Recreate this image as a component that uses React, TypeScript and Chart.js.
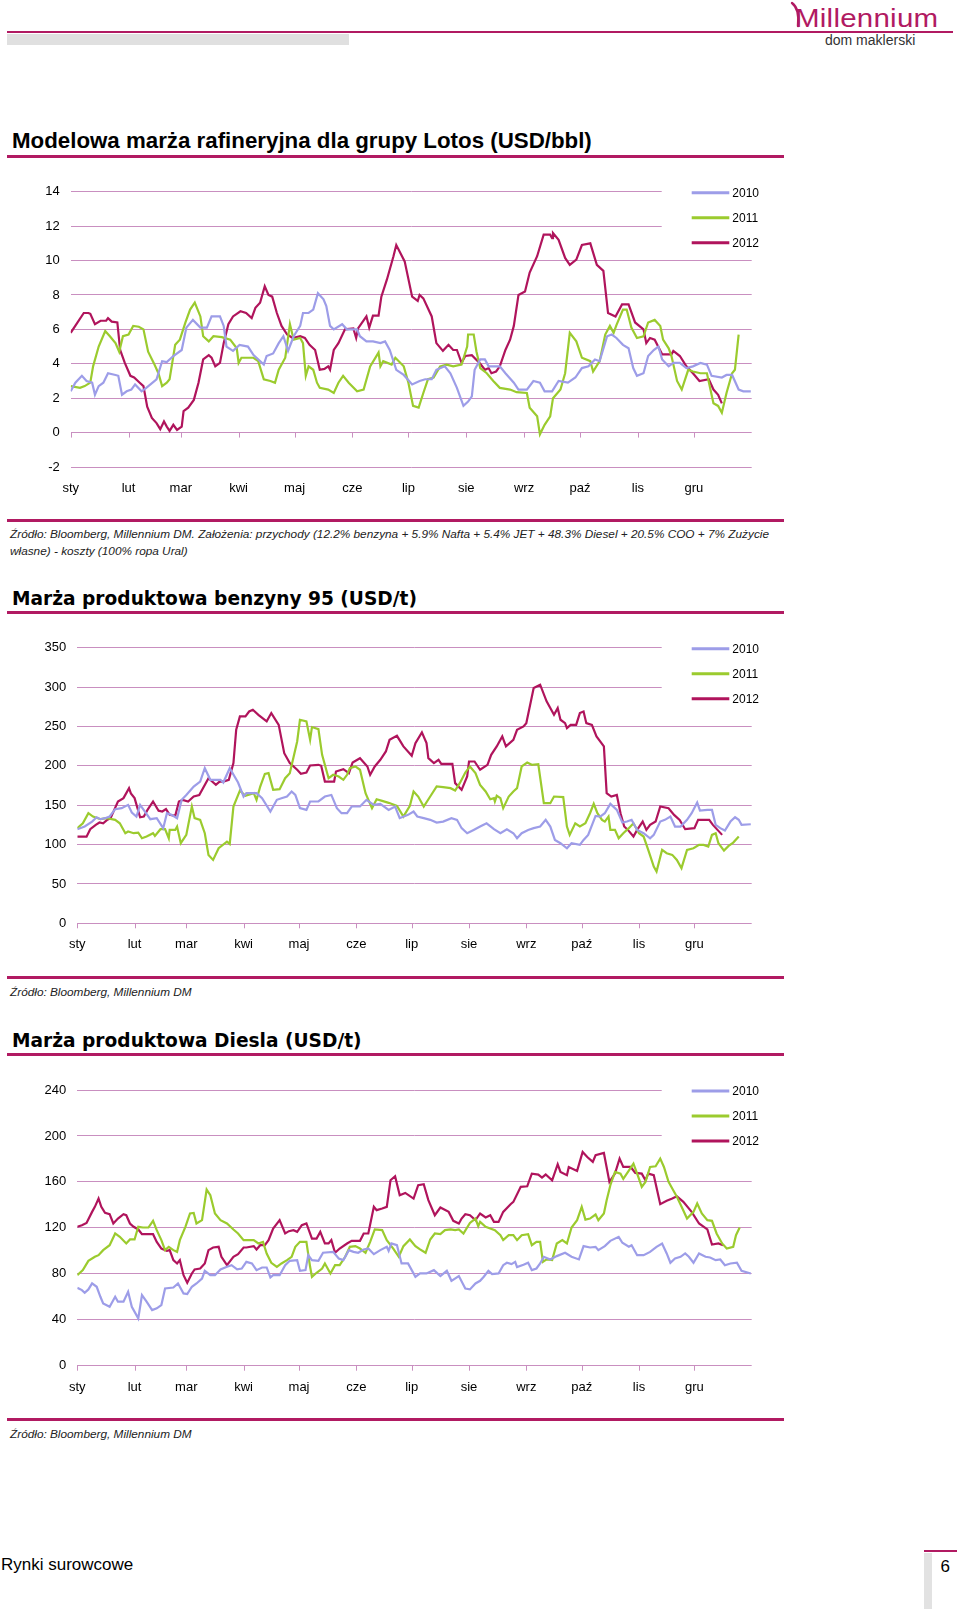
import React, { useEffect, useRef } from 'react';
import { Chart, registerables } from 'chart.js';

Chart.register(...registerables);

// ---------- shared axis data ----------
const MONTH_LABELS = ['sty', 'lut', 'mar', 'kwi', 'maj', 'cze', 'lip', 'sie', 'wrz', 'paź', 'lis', 'gru'];
const MONTH_START_DAYS = [0, 31, 59, 90, 120, 151, 181, 212, 243, 273, 304, 334];
const YEAR_LABELS = ['2010', '2011', '2012'];
const SERIES_COLORS = ['#9d9de8', '#9bcb2e', '#b0145c'];

const LOTOS_Y_TICKS = [-2, 0, 2, 4, 6, 8, 10, 12, 14];
const BENZ_Y_TICKS = [0, 50, 100, 150, 200, 250, 300, 350];
const DIESEL_Y_TICKS = [0, 40, 80, 120, 160, 200, 240];

// ---------- chart 1: Lotos model refining margin (USD/bbl), [dayOfYear, value] ----------
const LOTOS_2010 = [[0,2.4],[2.5,2.9],[6,3.3],[8.5,3.0],[11.5,2.9],[13,2.2],[15,2.7],[17.5,2.9],[20,3.45],[24,3.35],[25.5,3.3],[27.5,2.2],[30,2.4],[32.5,2.5],[34.5,2.8],[38,2.4],[40.5,2.6],[46,3.1],[49,4.15],[51.5,4.1],[55,4.45],[59.5,4.8],[62,6.1],[65.5,6.55],[69.5,6.1],[73,6.1],[75.5,6.75],[80,6.75],[82,6.2],[83.5,5.0],[87,4.75],[90.5,5.1],[95,5.0],[98,4.5],[103.5,3.95],[105,4.45],[108.5,4.6],[111.5,5.2],[114,5.6],[116.5,4.75],[119.5,5.6],[123,6.2],[124.5,6.95],[127.5,6.95],[130,7.15],[132.5,8.1],[135.5,7.75],[137,7.35],[139,6.2],[141,6.0],[145.5,6.3],[148,6.0],[153.5,6.0],[155,5.6],[158.5,5.3],[162,5.3],[166,5.2],[168.5,5.3],[171,4.8],[174.5,3.65],[178.5,3.35],[183,2.8],[187,3.0],[190,3.1],[193.5,3.1],[196,3.65],[200.5,3.85],[203.5,3.45],[207,2.6],[210.5,1.55],[213,1.8],[215,2.1],[216.5,3.65],[219.5,4.25],[222,4.25],[224,3.85],[230,3.85],[233,3.45],[237.5,2.9],[240,2.5],[244.5,2.5],[248,3.0],[251.5,2.9],[254,2.4],[258,2.4],[261.5,3.0],[266.5,2.9],[270.5,3.2],[274,3.75],[277.5,3.85],[281,4.25],[283.5,4.15],[287.5,5.6],[290,5.7],[292.5,5.5],[296,5.1],[299,4.9],[301.5,3.75],[303.5,3.3],[307,3.45],[309.5,4.45],[312.5,4.8],[315,5.0],[317,4.25],[320.5,3.85],[323,4.05],[326.5,4.05],[330,3.75],[333.5,3.85],[337.5,4.05],[341,3.95],[343.5,3.3],[349,3.2],[351.5,3.35],[354.5,3.35],[358,2.5],[360.5,2.4],[364.5,2.4]];
const LOTOS_2011 = [[0,2.7],[5,2.6],[7.5,2.7],[10.5,2.9],[12,3.85],[15,5.0],[18.5,5.9],[21,5.6],[24,5.2],[26,4.7],[28,5.6],[31,5.7],[33.5,6.2],[36.5,6.15],[39,6.0],[41.5,4.7],[44.5,4.05],[47,3.45],[49,2.7],[51.5,2.9],[53,3.1],[56,5.1],[58.5,5.4],[61.5,6.4],[64,7.15],[66.5,7.55],[69.5,6.75],[71,5.6],[74,5.3],[76.5,5.6],[81,5.55],[85.5,5.4],[89,4.9],[90,4.05],[91.5,4.35],[98,4.35],[100.5,4.15],[103.5,3.1],[107,3.0],[109.5,2.9],[111.5,3.65],[115,4.35],[117.5,6.3],[119.5,5.4],[123,5.5],[124.5,5.2],[126,3.3],[127.5,3.85],[130,3.65],[132,2.9],[133.5,2.6],[138,2.5],[141,2.3],[143.5,2.9],[146,3.3],[149,2.9],[153.5,2.4],[157,2.5],[160.5,3.85],[165,4.65],[166,3.85],[167.5,4.15],[172,3.95],[174,4.35],[178.5,3.85],[181,2.9],[183.5,1.55],[186.5,1.45],[189,2.3],[191.5,3.1],[194.5,3.2],[198,3.85],[201.5,3.95],[205,3.85],[209.5,3.95],[212.5,5.0],[213,5.7],[216,5.7],[217.5,4.7],[219.5,3.75],[223,3.45],[226.5,3.0],[230,2.6],[235.5,2.5],[239,2.35],[244.5,2.3],[246,1.45],[250,0.95],[251.5,-0.1],[254,0.45],[257,0.95],[258.5,2.0],[262.5,2.5],[265,3.45],[267.5,5.8],[271,5.3],[274,4.35],[278.5,4.15],[280,3.55],[283.5,4.15],[286.5,5.7],[289,6.2],[291,5.8],[292.5,6.25],[296,7.15],[298,7.15],[300.5,6.1],[303.5,5.5],[307,5.6],[309.5,6.4],[313,6.55],[316,6.2],[317.5,5.4],[320.5,4.9],[322,4.45],[325,3.0],[327.5,2.5],[331,3.65],[333.5,3.55],[337.5,3.45],[341,3.45],[344.5,1.7],[347,1.55],[349,1.15],[351.5,2.3],[354.5,3.45],[356,3.65],[358,5.7]];
const LOTOS_2012 = [[0,5.8],[7,6.95],[9.5,6.95],[10.5,6.9],[13,6.3],[16,6.5],[19,6.5],[20,6.65],[22,6.45],[25,6.4],[26.5,4.8],[29,4.05],[32,3.3],[34,3.2],[37,2.9],[39,2.7],[41,1.5],[43.5,0.85],[46,0.55],[48,0.2],[50,0.65],[51.5,0.35],[53,0.1],[55,0.45],[57,0.15],[59.5,0.35],[60.5,1.25],[63,1.45],[66,1.9],[68.5,2.9],[71,4.25],[74,4.5],[75.5,4.35],[77.5,3.85],[80,4.05],[82,5.2],[84.5,6.3],[87,6.75],[91,7.05],[94,6.95],[97,6.65],[99,7.25],[101.5,7.55],[104,8.5],[106,8.0],[108,7.9],[110.5,6.95],[113,6.2],[116,5.7],[119,5.5],[123,5.6],[125.5,5.5],[128,5.1],[131,4.8],[133.5,3.65],[136,3.7],[138,3.85],[139,3.65],[141,4.8],[143.5,5.2],[147,6.0],[151.5,6.05],[153,5.5],[154,6.05],[158.5,6.75],[160,6.1],[162,6.8],[165,6.8],[166.5,7.9],[169.5,8.9],[173,10.25],[174.5,10.9],[179,9.95],[183,7.9],[186,7.65],[187,8.0],[189,7.8],[193.5,6.75],[196,5.2],[199.5,4.75],[202.5,5.1],[205,4.8],[207,4.8],[209.5,4.05],[211.5,4.45],[215,4.5],[219.5,4.0],[222,3.65],[224,3.75],[225.5,3.45],[228,3.55],[230,3.85],[233,4.8],[235.5,5.4],[237.5,6.2],[240,8.0],[243.5,8.2],[246,9.3],[250,10.25],[253.5,11.5],[257,11.5],[258,11.3],[258.5,11.6],[261.5,11.2],[265,10.15],[267.5,9.75],[271,10.05],[274,10.9],[278.5,11.0],[282,9.75],[285.5,9.4],[288,6.95],[292,6.75],[295.5,7.45],[299,7.45],[302.5,6.4],[307,6.0],[308.5,5.2],[310.5,5.5],[313,5.4],[317,4.55],[322,4.55],[323,4.75],[326.5,4.45],[330,3.85],[333.5,3.45],[337,3.0],[342,3.1],[344.5,2.5],[347,2.2],[349,1.7]];

// ---------- chart 2: gasoline 95 crack (USD/t) ----------
const BENZ_2010 = [[0,119.5],[4,122.9],[8,129.2],[10.5,134.7],[12.5,132.2],[15,133.5],[17.5,135.6],[20.5,144.9],[24,146.2],[27.5,150.4],[29.5,140.7],[32,135.6],[34,150.4],[36.5,142],[39.5,132.2],[43,133.5],[46.5,120.8],[48.5,139.8],[51,137.7],[54,133.5],[56.5,156.8],[59,163],[63,173.7],[66.5,180],[69,197],[72,182.2],[77.5,182.2],[79,178.8],[82.5,197],[87,178.8],[90,161],[91.5,165.3],[97,165.3],[100,158.9],[104.5,142],[108,156.8],[110.5,158.9],[113.5,161],[116,167.4],[118,163],[120.5,146.2],[124,144],[126,154.7],[130.5,154.7],[134,161],[137.5,163],[140.5,146.2],[143,139.8],[146,139.8],[148.5,148.3],[153,148.3],[156.5,156.8],[160.5,150.4],[164,151.7],[168.5,144],[172,148.3],[174.5,133.5],[179,137.7],[182,142],[184,135.6],[187.5,133.5],[191,131.4],[194.5,128],[198,129.2],[202.5,133.5],[205.5,131.4],[208,120.8],[211,114.4],[214.5,118.6],[218,122.9],[221.5,127],[225.5,119.5],[229,114.4],[232.5,119.5],[236,114.4],[238,108],[240.5,114.4],[244,118.6],[247,120.8],[250.5,122.9],[253.5,131.4],[256,122.9],[258.5,105.9],[261.5,101.7],[265,95.3],[267.5,101.7],[272,99.6],[274,105.9],[276.5,112.3],[280.5,136.4],[283,135.6],[285.5,139.8],[288.5,151.7],[292,144],[295,128],[297.5,129.2],[300,131.4],[303,118.6],[306.5,114.4],[310,108],[312,112.3],[315.5,129.2],[318,131.4],[321,135.6],[323.5,122.9],[326.5,122.9],[330,131.4],[332.5,139.8],[335.5,153.4],[337,143.2],[341,144],[343.5,144],[345.5,125],[348,120.8],[350.5,117.8],[353.5,129.2],[356,134.7],[358,131.4],[359.5,125],[364.5,125.8]];
const BENZ_2011 = [[0,120.8],[3,127],[6,139.8],[8.5,135.6],[12.5,132.2],[16,133.5],[20.5,131.4],[23,127],[26,114.4],[27.5,116.5],[30.5,114.4],[33,115],[35,108],[37.5,110.2],[41,114.4],[42,111],[45,119.5],[47.5,119.5],[49.5,108],[50,118.6],[53,118.6],[54,122.9],[56,101.7],[59,112.3],[62,148.3],[63.5,133.5],[66.5,131.4],[69,114.4],[71,86.9],[73.5,80.5],[76.5,95.3],[81,103.8],[82.5,100.8],[84.5,148.3],[88,168.6],[91,161.9],[95.5,165.3],[97,156.8],[99,173.7],[101.5,189.8],[103.5,190.7],[106,169.5],[109.5,170.3],[112.5,184.3],[115,190.7],[119,230.9],[120.5,258.5],[124,256.4],[126,233],[127,249.2],[130.5,246.6],[132.5,214],[136,184.3],[138.5,188.6],[141.5,186.4],[144,182.2],[146,188.6],[147.5,197],[150.5,199.2],[153,195],[156,165.3],[159.5,146.2],[162,157.6],[165,155.5],[168.5,153],[173,149.2],[176.5,135.6],[180,149.2],[182,167.4],[184.5,161],[187.5,148.3],[191,161],[194.5,173.7],[198,172.9],[202,171.6],[204.5,168.6],[207,178],[210,191.5],[212.5,199.2],[215.5,190.7],[218,175.8],[221,167.4],[223.5,157.6],[225.5,159],[226,154.7],[227,161.9],[229,158.9],[230.5,146.2],[233.5,161],[236,167.4],[238,171.6],[240.5,199.2],[243.5,204.2],[246,201.3],[249.5,202],[252.5,152.5],[256,152.5],[258,161],[263,160.2],[265,122.9],[266.5,112.3],[269.5,127],[272,122.9],[275,127],[277.5,139.8],[279.5,151.7],[281.5,139.8],[284,131.4],[285.5,129.2],[287.5,135.6],[288.5,118.6],[291,118.6],[293,108],[295.5,114.4],[298.5,120.8],[301,127],[304,114.4],[306.5,110.2],[309,93.2],[312,72],[313.5,65.7],[316.5,93.2],[319,89],[322,86.9],[324.5,80.5],[327,70],[330,93.2],[333.5,95.3],[336.5,99.6],[339,99.6],[341.5,97.5],[343.5,112.3],[345.5,114.4],[347,101.7],[350,92.4],[352.5,98.3],[355,102.5],[358,110.2]];
const BENZ_2012 = [[0,110],[5,110],[7,119.5],[10,125],[12,128],[14,127],[16,131],[18,133.5],[20,144],[22,154.7],[25,159],[28,171.6],[29,165],[31,159],[34,134.7],[36,135.6],[38,144],[41,154.7],[44,143],[46,142],[48,145],[50,137.7],[53,136.4],[55,154.7],[57,156.8],[60,154.7],[63,161],[66,163],[71,184.3],[75,175.8],[77,180],[79,180],[82,182.2],[84.5,203.4],[86,245.8],[88,262.7],[91,262.7],[93,269],[95,271.2],[98,264.8],[102.5,256.4],[105,267],[109,252],[112,216],[115,203.4],[119,195],[121,189.8],[124,191.5],[126,200.4],[130.5,201.3],[132,200],[134,180],[139,180],[140,192.8],[144,195.8],[147,190.7],[149,204.2],[153,209.7],[157,199.2],[158.5,188.6],[161,199.2],[164,207.6],[167,218.2],[169,233],[173,238.1],[176.5,224.6],[181,212.7],[183,228.8],[186.5,242.4],[189,228.8],[190,209.7],[193,203.4],[195.5,207.6],[197,202.5],[203,202.5],[204.5,178],[208,169.5],[211,186.4],[212,205.5],[215,205.5],[218,195],[222,201.3],[224,214],[227,224.6],[230,237.3],[232,224.6],[236,233],[238,245.8],[241.5,250],[243,254.2],[247,298.7],[250.5,303],[254,281.8],[258,264.8],[260,273.3],[261.5,258.5],[264,254.2],[265,247.9],[267,252],[270,252],[272,267],[274,269],[275.5,254.2],[278.5,252],[281,237.3],[285,224.6],[286.5,165.3],[289,161],[292,163],[294,139.8],[296,122.9],[298,118.6],[301,110.2],[303,118.6],[306,129.2],[308,118.6],[310,125],[313,129.2],[315.5,148.3],[320,146.2],[323,137.7],[326,131.4],[329,119.5],[334,120.8],[336,131.4],[342,131.4],[344,125],[349,112.3]];

// ---------- chart 3: diesel crack (USD/t) ----------
const DIESEL_2010 = [[0,67.8],[2.5,65.8],[4,63.5],[6,66.4],[8,71.6],[10.5,68.7],[12.5,60],[14,54.2],[17.5,51.3],[20.5,60],[22,55.7],[25,55.7],[27.5,64.3],[29.5,51.3],[33,41.2],[35,61.4],[37.5,55.7],[40.5,48.4],[43,49.9],[45.5,52.8],[47.5,67.2],[52,68.1],[54.5,71.6],[57.5,62.9],[59.5,62.3],[62,68.7],[64.5,71.6],[67.5,75.9],[69,82.6],[72,78.8],[74.5,78.8],[77.5,83.8],[81,86.1],[83.5,87.5],[86.5,83.8],[89,84.6],[91.5,90.4],[94.5,89],[97,83.2],[100,85.5],[102.5,85.5],[104.5,76.8],[106,78.8],[109.5,78.8],[112.5,87.5],[115,91.3],[119,91.9],[120.5,82.6],[123.5,83.2],[125,96.2],[127,91.9],[130.5,91.3],[133,98.3],[138.5,99.1],[141.5,93.3],[144,91.9],[147,100.6],[149.5,99.1],[152,98.3],[155,101.2],[157.5,102],[160.5,97.1],[164,100.6],[167.5,103.5],[168.5,100],[170,106.4],[173,104.9],[175.5,89],[179,89],[183,77.4],[185.5,80.3],[189,80.3],[193,83.2],[196.5,78],[200,82.6],[202.5,73.9],[206.5,78],[210,67.2],[212.5,66.4],[215.5,71.6],[218,73.9],[220,77.4],[222.5,82.6],[224.5,79.7],[228,80.3],[230.5,87.5],[232.5,89.6],[235,88.4],[237,90.4],[238,85.8],[241.5,87.8],[244,89.6],[246,83.2],[248.5,84.6],[250.5,89],[252.5,94.8],[256,92.5],[259.5,95.4],[264,98.3],[267.5,94.8],[271.5,92.5],[274,104.1],[277.5,102.9],[280.5,103.5],[282,100.6],[285.5,104.1],[288.5,108.7],[293,112.2],[295,107],[298.5,103.5],[300,104.9],[303,96.2],[306.5,96.2],[310,99.1],[313.5,103.5],[316.5,106.4],[319,97.7],[321,89.6],[323.5,93.3],[326.5,94.8],[329,97.7],[331,94.8],[333.5,89.6],[336.5,97.7],[340,94.8],[342.5,94.2],[345.5,91.9],[348,92.5],[350.5,87.5],[353.5,89],[357,89.6],[359.5,82.6],[364.5,80.3]];
const DIESEL_2011 = [[0,78.8],[3,83.2],[6,91.3],[9.5,94.8],[11.5,96.2],[14,100.6],[17.5,104.9],[20.5,115.1],[23,112.2],[26.5,106.4],[28.5,109.9],[31,109.9],[33,120.9],[35.5,120.3],[38.5,120.3],[41,126.1],[43,118],[45.5,109.3],[47.5,100.6],[49.5,103.5],[52,100.6],[54,99.1],[55.5,109.3],[58.5,120.9],[61,132.5],[63,133],[64.5,123.8],[67.5,126.7],[70,153.3],[72,148.4],[74.5,132.5],[77.5,126.7],[81,123.8],[84.5,118.6],[87,115.1],[90,109.3],[95.5,109.3],[98,106.4],[100.5,107.8],[102.5,97.7],[105,89.6],[108,86.1],[110.5,89],[113.5,91.9],[116,94.8],[118,103.5],[120.5,107.8],[124,107.8],[126,86.1],[127,77.4],[129.5,80.9],[132.5,84.6],[134,89],[137,80.3],[139.5,87.5],[142,87.5],[145,94.8],[147.5,103.5],[150.5,104.1],[153,102],[156,98.3],[158.5,107.8],[161,118.6],[165,118],[167.5,109.3],[171,102],[174,94.8],[176.5,104.1],[180,109.9],[183,104.1],[185.5,101.2],[188.5,98.3],[191,109.9],[193.5,115.1],[196.5,114.5],[199,118],[202,118.6],[204.5,118],[206.5,118.6],[209,115.1],[212.5,124.3],[215.5,128.1],[217,121.4],[218,125.2],[221,120.9],[223.5,119.4],[226,118],[229,113.6],[230.5,109.3],[233.5,113.6],[236,113.6],[238,109.3],[240.5,113.6],[244,114.5],[246,104.9],[248.5,107.8],[250.5,107.8],[252,90.4],[254,92.5],[257,91.9],[259.5,106.4],[262.5,109.3],[265,106.4],[267.5,120.3],[270.5,126.7],[273,138.3],[275,127.2],[277.5,128.1],[280.5,131.6],[282,126.7],[285,132.5],[286.5,144.1],[288.5,157.1],[291,168.7],[294,167.2],[295.5,162.6],[298.5,169.9],[301,175.9],[303,167.2],[305.5,155.7],[307.5,160],[310,173],[313,173.6],[315.5,180.3],[317.5,173],[320,160],[322,154.2],[324.5,147],[327.5,136.8],[330,128.1],[333.5,133.9],[335.5,141.2],[338,132.5],[341,126.7],[343.5,126.1],[346,115.1],[349,106.4],[351.5,102],[355,103.5],[356.5,113.6],[358.5,120.3]];
const DIESEL_2012 = [[0,120.9],[2.5,122.3],[5,124.3],[8,133.9],[9.5,138.3],[11.5,145.5],[13,138.3],[15,133],[17.5,131.9],[19.5,123.8],[22,128.1],[25,131.9],[26.5,131],[28.5,123.8],[30.5,120.9],[33,118.6],[35,114.5],[41,114.5],[43,107.8],[45.5,102],[48.5,100],[50,100.6],[52,91.9],[54,89],[55.5,91.9],[57.5,78.8],[59.5,72.2],[62,80.3],[63.5,83.8],[66.5,84.6],[69,89],[71,100.6],[73.5,102.9],[76.5,103.5],[78,94.8],[81,87.5],[84.5,94.8],[87,97.1],[90,102.9],[91.5,102.9],[95.5,104.1],[97,101.2],[99,104.9],[101.5,104.9],[103.5,109.3],[106,119.4],[109.5,126.7],[112.5,115.1],[114.5,117.1],[117,118],[119,116.5],[121.5,122.3],[124,123.8],[127,110.7],[129.5,110.7],[131.5,116.5],[134,106.4],[136,106.4],[137.5,109.3],[139.5,98.3],[142,102],[146,106.4],[148.5,108.7],[153,108.7],[155,115.1],[157.5,115.1],[160.5,138.3],[162,135.4],[165,136.8],[167.5,138.3],[169.5,161.4],[172,164.9],[174.5,148.4],[177.5,150.4],[182,145.5],[184.5,157.1],[187.5,158],[190,144.1],[193.5,131],[196.5,137.7],[201,133.9],[203.5,126.1],[206.5,123.8],[208,128.1],[210,131.9],[212.5,131],[215.5,126.7],[218,132.5],[221,129],[223.5,131],[225.5,125.2],[228,125.2],[230.5,133.9],[234.5,140.6],[236,142.6],[240,155.7],[243.5,156.2],[246,167.2],[249.5,166.4],[251.5,163.8],[253.5,166.4],[257,161.4],[260,175.4],[261.5,168.7],[265,165.8],[266,173],[270.5,169.6],[273.5,186.1],[276,181.7],[279,177.4],[280.5,183.2],[285,185.2],[288,160],[291,167.2],[293.5,180.3],[295.5,173],[299.5,173],[302,167.8],[305.5,167.2],[307.5,161.4],[309,167.2],[312,165.8],[315.5,140.6],[319,143.5],[322,145.5],[324.5,147.5],[328,142.6],[332.5,133.9],[336.5,123.8],[341,118.6],[343.5,105.5],[347,106.4],[349.5,104.9]];

// ---------- styling ----------
const MAGENTA = '#b11a62';
const GRID_COLOR = '#c98fc0';
const FONT = "'Liberation Sans', Arial, sans-serif";
const CANVAS_W = 780;
const X_AXIS_H = 40;
const LEGEND_LEFT = 661.7;

type Pair = number[];
interface Spec {
  canvasTop: number;
  canvasHeight: number;
  plotLeft: number;
  plotRight: number;
  plotTop: number;
  plotBottom: number;
  yTicks: number[];
  series: Pair[][];
}

const overlayPlugin = {
  id: 'pageOverlay',
  beforeDatasetsDraw(chart: any) {
    const { ctx, scales } = chart;
    const x = scales.x;
    const y = scales.y;
    const y0 = y.getPixelForValue(0);
    ctx.save();
    ctx.strokeStyle = GRID_COLOR;
    ctx.lineWidth = 1;
    MONTH_START_DAYS.forEach((d) => {
      const px = Math.round(x.getPixelForValue(d)) + 0.5;
      ctx.beginPath();
      ctx.moveTo(px, y0);
      ctx.lineTo(px, y0 + 5);
      ctx.stroke();
    });
    ctx.restore();
  },
  afterDatasetsDraw(chart: any) {
    const { ctx, chartArea, scales } = chart;
    const y = scales.y;
    const vals: number[] = y.ticks.map((t: any) => t.value);
    const secondTop = vals[vals.length - 2];
    const boxBottom = y.getPixelForValue(secondTop) + 12;
    ctx.save();
    ctx.fillStyle = '#ffffff';
    ctx.fillRect(LEGEND_LEFT, 0, chart.width - LEGEND_LEFT, boxBottom);
    chart.data.datasets.forEach((ds: any, i: number) => {
      const ly = chartArea.top + 1 + i * 25;
      ctx.strokeStyle = ds.borderColor;
      ctx.lineWidth = 3;
      ctx.beginPath();
      ctx.moveTo(691.7, ly);
      ctx.lineTo(729.3, ly);
      ctx.stroke();
      ctx.fillStyle = '#000';
      ctx.font = `12px ${FONT}`;
      ctx.textBaseline = 'middle';
      ctx.textAlign = 'left';
      ctx.fillText(ds.label, 732.3, ly + 0.5);
    });
    ctx.restore();
  },
};

function LineChart({ spec }: { spec: Spec }) {
  const ref = useRef<HTMLCanvasElement>(null);
  useEffect(() => {
    const canvas = ref.current;
    if (!canvas) return;
    const yt = spec.yTicks;
    const chart = new Chart(canvas, {
      type: 'line',
      data: {
        datasets: spec.series.map((s, i) => ({
          label: YEAR_LABELS[i],
          data: s.map(([x, y]) => ({ x, y })),
          borderColor: SERIES_COLORS[i],
          backgroundColor: SERIES_COLORS[i],
          borderWidth: 2.2,
          pointRadius: 0,
          tension: 0,
          fill: false,
        })),
      },
      options: {
        responsive: false,
        animation: false,
        devicePixelRatio: 1,
        layout: {
          padding: {
            left: 0,
            right: CANVAS_W - spec.plotRight,
            top: spec.plotTop - spec.canvasTop,
            bottom: spec.canvasTop + spec.canvasHeight - spec.plotBottom - X_AXIS_H,
          },
        },
        plugins: { legend: { display: false }, tooltip: { enabled: false } },
        scales: {
          x: {
            type: 'linear',
            min: 0,
            max: 365,
            grid: { display: false, drawTicks: false },
            border: { display: false },
            afterBuildTicks: (scale: any) => {
              scale.ticks = MONTH_START_DAYS.map((v) => ({ value: v }));
            },
            afterFit: (scale: any) => {
              scale.height = X_AXIS_H;
            },
            ticks: {
              autoSkip: false,
              maxRotation: 0,
              minRotation: 0,
              padding: 13.5,
              color: '#000',
              font: { family: FONT, size: 13 },
              callback: (v: any) => {
                const idx = MONTH_START_DAYS.indexOf(Number(v));
                return idx >= 0 ? MONTH_LABELS[idx] : '';
              },
            },
          },
          y: {
            type: 'linear',
            min: yt[0],
            max: yt[yt.length - 1],
            grid: { color: GRID_COLOR, lineWidth: 1, drawTicks: false },
            border: { display: false },
            afterFit: (scale: any) => {
              scale.width = spec.plotLeft;
            },
            ticks: {
              stepSize: yt[1] - yt[0],
              padding: 11,
              color: '#000',
              font: { family: FONT, size: 13 },
            },
          },
        },
      } as any,
      plugins: [overlayPlugin],
    });
    return () => chart.destroy();
  }, [spec]);
  return (
    <canvas
      ref={ref}
      width={CANVAS_W}
      height={spec.canvasHeight}
      style={{ position: 'absolute', left: 0, top: spec.canvasTop, width: CANVAS_W, height: spec.canvasHeight }}
    />
  );
}

const SPEC_LOTOS: Spec = { canvasTop: 160, canvasHeight: 350, plotLeft: 70.7, plotRight: 751.7, plotTop: 191.7, plotBottom: 467, yTicks: LOTOS_Y_TICKS, series: [LOTOS_2010, LOTOS_2011, LOTOS_2012] };
const SPEC_BENZ: Spec = { canvasTop: 620, canvasHeight: 360, plotLeft: 77.3, plotRight: 751.7, plotTop: 647.7, plotBottom: 923.3, yTicks: BENZ_Y_TICKS, series: [BENZ_2010, BENZ_2011, BENZ_2012] };
const SPEC_DIESEL: Spec = { canvasTop: 1062, canvasHeight: 360, plotLeft: 77.3, plotRight: 751.7, plotTop: 1090, plotBottom: 1365.7, yTicks: DIESEL_Y_TICKS, series: [DIESEL_2010, DIESEL_2011, DIESEL_2012] };

function Rule({ top, left = 7, width = 777, height = 3, color = MAGENTA }: any) {
  return <div style={{ position: 'absolute', top, left, width, height, background: color }} />;
}

function Txt({ top, left, size, children, style }: any) {
  return (
    <div style={{ position: 'absolute', top, left, fontSize: size, lineHeight: 1, whiteSpace: 'nowrap', fontFamily: FONT, color: '#000', ...style }}>
      {children}
    </div>
  );
}

export default function App() {
  const titleStyle = { fontFamily: "'DejaVu Sans', sans-serif", fontWeight: 700 };
  const srcStyle = { fontStyle: 'italic', color: '#222' };
  return (
    <div style={{ position: 'absolute', left: 0, top: 0, width: 960, height: 1611, background: '#fff', overflow: 'hidden' }}>
      {/* header */}
      <Rule top={31} left={7} width={946} height={2} />
      <div style={{ position: 'absolute', top: 34, left: 7, width: 342, height: 11, background: '#e0e0e0' }} />
      <svg style={{ position: 'absolute', left: 786, top: 0 }} width={20} height={30}>
        <path d="M 6 3 Q 14 9 12 26" stroke={MAGENTA} strokeWidth={2.4} fill="none" strokeLinecap="round" />
      </svg>
      <Txt top={6.3} left={795} size={25} style={{ color: MAGENTA, transform: 'scaleX(1.18)', transformOrigin: 'left top', letterSpacing: 0.2 }}>Millennium</Txt>
      <Txt top={32.5} left={825} size={14} style={{ color: '#333' }}>dom maklerski</Txt>

      {/* chart 1 */}
      <Txt top={130.2} left={12} size={22.3} style={{ fontWeight: 700 }}>Modelowa marża rafineryjna dla grupy Lotos (USD/bbl)</Txt>
      <Rule top={154.5} />
      <LineChart spec={SPEC_LOTOS} />
      <Rule top={519} />
      <Txt top={528.5} left={10} size={11.8} style={srcStyle}>Źródło: Bloomberg, Millennium DM. Założenia: przychody (12.2% benzyna + 5.9% Nafta + 5.4% JET + 48.3% Diesel + 20.5% COO + 7% Zużycie</Txt>
      <Txt top={546} left={10} size={11.8} style={srcStyle}>własne) - koszty (100% ropa Ural)</Txt>

      {/* chart 2 */}
      <Txt top={590} left={12} size={18.6} style={titleStyle}>Marża produktowa benzyny 95 (USD/t)</Txt>
      <Rule top={611} />
      <LineChart spec={SPEC_BENZ} />
      <Rule top={976} />
      <Txt top={986.5} left={10} size={11.8} style={srcStyle}>Źródło: Bloomberg, Millennium DM</Txt>

      {/* chart 3 */}
      <Txt top={1031.6} left={12} size={18.6} style={titleStyle}>Marża produktowa Diesla (USD/t)</Txt>
      <Rule top={1053} />
      <LineChart spec={SPEC_DIESEL} />
      <Rule top={1418} />
      <Txt top={1428.5} left={10} size={11.8} style={srcStyle}>Źródło: Bloomberg, Millennium DM</Txt>

      {/* footer */}
      <Txt top={1555.6} left={1} size={17}>Rynki surowcowe</Txt>
      <Rule top={1550} left={924} width={33} height={2} />
      <div style={{ position: 'absolute', top: 1553, left: 924, width: 8, height: 56, background: '#e2e2e2' }} />
      <Txt top={1557.6} left={940.5} size={17}>6</Txt>
    </div>
  );
}
